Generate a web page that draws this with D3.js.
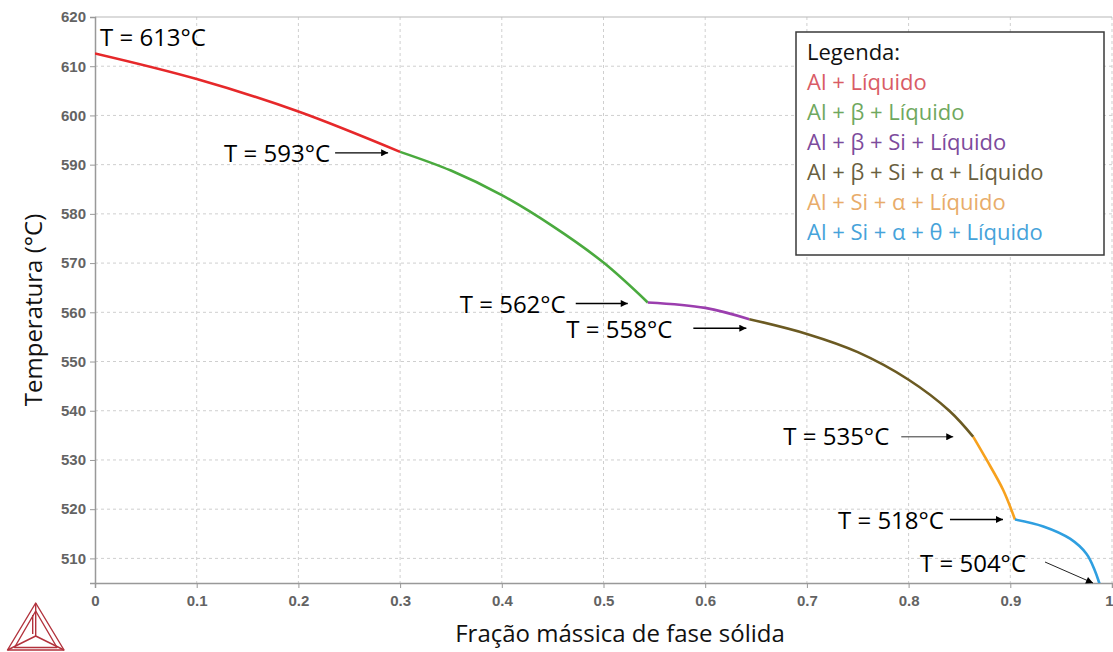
<!DOCTYPE html>
<html>
<head>
<meta charset="utf-8">
<script src="https://cdn.jsdelivr.net/npm/d3@7/dist/d3.min.js"></script>
<style>
  html, body { margin: 0; padding: 0; background: #fff; }
  svg { display: block; }
</style>
</head>
<body>
<svg id="chart" width="1113" height="652"></svg>
<script>
// Solidification path: temperature vs. solid mass fraction, split by phase region
const phaseNames = [
  "Al + Líquido",
  "Al + β + Líquido",
  "Al + β + Si + Líquido",
  "Al + β + Si + α + Líquido",
  "Al + Si + α + Líquido",
  "Al + Si + α + θ + Líquido"
];
const lineColors  = ["#e6282a", "#4aaa3e", "#9b3eae", "#6b5a22", "#f7a11d", "#2f9fe0"];
const labelColors = ["#d95c66", "#6fa85e", "#7d4b9c", "#6a5f3e", "#e8ac6a", "#46a3da"];

const fracAlLiq    = [0, 0.1, 0.2, 0.3];
const tempAlLiq    = [612.6, 607.4, 600.8, 592.6];
const fracBeta     = [0.3, 0.35, 0.4, 0.45, 0.5, 0.5435];
const tempBeta     = [592.6, 588.8, 583.8, 577.5, 570.1, 562.0];
const fracBetaSi   = [0.5435, 0.6, 0.6434];
const tempBetaSi   = [562.0, 560.9, 558.6];
const fracBetaSiA  = [0.6434, 0.7, 0.75, 0.8, 0.84, 0.8636];
const tempBetaSiA  = [558.6, 555.6, 551.9, 546.3, 540.0, 534.7];
const fracSiA      = [0.8636, 0.8768, 0.893, 0.9046];
const tempSiA      = [534.7, 530.0, 523.9, 517.9];
const fracSiATheta = [0.9046, 0.9325, 0.9587, 0.975, 0.983, 0.9875, 0.9892];
const tempSiATheta = [517.9, 516.5, 514.0, 510.9, 507.6, 505.0, 504.0];

const xTicks = [0, 0.1, 0.2, 0.3, 0.4, 0.5, 0.6, 0.7, 0.8, 0.9, 1];
const yTicks = [510, 520, 530, 540, 550, 560, 570, 580, 590, 600, 610, 620];

// Temperatures marked along the curve: liquidus, then the end of each phase region
const markTemps = [613, 593, 562, 558, 535, 518, 504];

const segments = [
  [fracAlLiq, tempAlLiq],
  [fracBeta, tempBeta],
  [fracBetaSi, tempBetaSi],
  [fracBetaSiA, tempBetaSiA],
  [fracSiA, tempSiA],
  [fracSiATheta, tempSiATheta]
].map(([f, t], i) => ({ name: phaseNames[i], color: lineColors[i], pts: f.map((v, j) => [v, t[j]]) }));

const svg = d3.select("#chart");
const plotL = 95, plotR = 1112, plotT = 17, plotB = 583;

const x = d3.scaleLinear().domain([0, 1]).range([plotL, plotR]);
const y = d3.scaleLinear().domain([505, 620]).range([plotB, plotT]);

// grid
const grid = svg.append("g");
grid.selectAll("line.gx").data(xTicks.slice(1)).join("line")
  .attr("x1", d => x(d)).attr("x2", d => x(d))
  .attr("y1", plotT).attr("y2", plotB)
  .attr("stroke", "#cfcfcf").attr("stroke-width", 1).attr("stroke-dasharray", "3,3");
grid.selectAll("line.gy").data(yTicks.slice(0, -1)).join("line")
  .attr("x1", plotL).attr("x2", plotR)
  .attr("y1", d => y(d)).attr("y2", d => y(d))
  .attr("stroke", "#cfcfcf").attr("stroke-width", 1).attr("stroke-dasharray", "3,3");
// top frame line
svg.append("line").attr("x1", plotL).attr("x2", plotR).attr("y1", plotT).attr("y2", plotT)
  .attr("stroke", "#b8b8b8").attr("stroke-width", 1.2);

// axes
const tickFont = g => g.selectAll("text")
  .attr("font-family", "'Liberation Sans', Arial, sans-serif")
  .attr("font-size", 15).attr("font-weight", "bold").attr("fill", "#636363");

const xAxis = svg.append("g").attr("transform", `translate(0,${plotB})`)
  .call(d3.axisBottom(x).tickValues(xTicks).tickFormat(d3.format("")).tickSizeOuter(0).tickSize(5).tickPadding(7))
  .call(tickFont);
xAxis.select(".domain").attr("stroke", "#999").attr("stroke-width", 1.5);
xAxis.selectAll(".tick line").attr("stroke", "#999");
// last label sits at the right edge of the page
xAxis.selectAll(".tick text").filter(d => d === 1).attr("text-anchor", "end").attr("dx", 1);

const yAxis = svg.append("g").attr("transform", `translate(${plotL},0)`)
  .call(d3.axisLeft(y).tickValues(yTicks).tickSizeOuter(0).tickSize(5).tickPadding(4))
  .call(tickFont);
yAxis.select(".domain").attr("stroke", "#999").attr("stroke-width", 1.5);
yAxis.selectAll(".tick line").attr("stroke", "#999");

// axis titles
svg.append("text")
  .attr("x", 620).attr("y", 642)
  .attr("text-anchor", "middle")
  .attr("font-family", "'Open Sans', sans-serif").attr("font-size", 24).attr("fill", "#111")
  .text("Fração mássica de fase sólida");
svg.append("text")
  .attr("transform", "translate(42,310) rotate(-90)")
  .attr("text-anchor", "middle")
  .attr("font-family", "'Open Sans', sans-serif").attr("font-size", 24).attr("fill", "#111")
  .text("Temperatura (°C)");

// curves, clipped to the plot area
svg.append("clipPath").attr("id", "plotClip")
  .append("rect").attr("x", plotL).attr("y", plotT - 2).attr("width", plotR - plotL + 2).attr("height", plotB - plotT + 2);

const line = d3.line().x(d => x(d[0])).y(d => y(d[1])).curve(d3.curveCatmullRom.alpha(0.5));
svg.append("g").attr("clip-path", "url(#plotClip)")
  .selectAll("path").data(segments).join("path")
  .attr("d", d => line(d.pts))
  .attr("fill", "none")
  .attr("stroke", d => d.color)
  .attr("stroke-width", 2.6)
  .attr("stroke-linejoin", "round");

// annotations: arrow tip offset from the curve point, arrow length, text gap
svg.append("defs").append("marker")
  .attr("id", "arrowHead").attr("viewBox", "0 0 10 10")
  .attr("refX", 10).attr("refY", 5)
  .attr("markerWidth", 9).attr("markerHeight", 7).attr("markerUnits", "userSpaceOnUse")
  .attr("orient", "auto")
  .append("path").attr("d", "M0,0 L10,5 L0,10 Z").attr("fill", "#000");

const firstPt = segments[0].pts[0];
const endPts = segments.map(s => s.pts[s.pts.length - 1]);
const notePts = [firstPt, ...endPts];
const noteLayout = [
  { dx: 5, dy: -7 },
  { tipDx: -12, tipDy: 1, len: 53, gap: 5, base: 9 },
  { tipDx: -20, tipDy: 1, len: 52, gap: 10, base: 9.4 },
  { tipDx: -3, tipDy: 9, len: 53, gap: 21, base: 9.4 },
  { tipDx: -20, tipDy: 0, len: 52, gap: 12, base: 8.5, thin: true },
  { tipDx: -12, tipDy: 0, len: 53, gap: 6, base: 9 },
  { diag: true }
];

const annoFont = "'Open Sans', sans-serif";
const notes = svg.append("g");
notePts.forEach((p, i) => {
  const L = noteLayout[i];
  const px = x(p[0]), py = y(p[1]);
  const label = `T = ${markTemps[i]}°C`;
  if (i === 0) {
    notes.append("text").attr("x", px + L.dx).attr("y", py + L.dy)
      .attr("font-family", annoFont).attr("font-size", 24).attr("fill", "#000").text(label);
    return;
  }
  if (L.diag) {
    const tipX = Math.min(px, plotR) - 8, tipY = plotB;
    notes.append("line")
      .attr("x1", tipX - 48).attr("y1", tipY - 21).attr("x2", tipX).attr("y2", tipY)
      .attr("stroke", "#222").attr("stroke-width", 1).attr("marker-end", "url(#arrowHead)");
    notes.append("text").attr("x", tipX - 67).attr("y", tipY - 11.5)
      .attr("text-anchor", "end")
      .attr("font-family", annoFont).attr("font-size", 24).attr("fill", "#000").text(label);
    return;
  }
  const tipX = px + L.tipDx, tipY = py + L.tipDy;
  notes.append("line")
    .attr("x1", tipX - L.len).attr("y1", tipY).attr("x2", tipX).attr("y2", tipY)
    .attr("stroke", L.thin ? "#333" : "#000").attr("stroke-width", L.thin ? 1 : 1.4)
    .attr("marker-end", "url(#arrowHead)");
  notes.append("text").attr("x", tipX - L.len - L.gap).attr("y", tipY + L.base)
    .attr("text-anchor", "end")
    .attr("font-family", annoFont).attr("font-size", 24).attr("fill", "#000").text(label);
});

// legend
const lg = svg.append("g").attr("transform", "translate(796,32)");
lg.append("rect").attr("width", 308).attr("height", 223)
  .attr("fill", "#fff").attr("stroke", "#3a3a3a").attr("stroke-width", 1.5);
lg.append("text").attr("x", 11).attr("y", 28)
  .attr("font-family", annoFont).attr("font-size", 22).attr("fill", "#111").text("Legenda:");
lg.selectAll("text.item").data(phaseNames).join("text")
  .attr("class", "item")
  .attr("x", 11).attr("y", (d, i) => 58 + i * 30)
  .attr("font-family", annoFont).attr("font-size", 22)
  .attr("fill", (d, i) => labelColors[i])
  .text(d => d);

// brand mark, bottom left
const logo = svg.append("g").attr("fill", "none").attr("stroke", "#b2323c").attr("stroke-width", 1.4)
  .attr("stroke-linejoin", "round");
const A = [35.7, 603], B = [7.5, 650], C = [64, 650], O = [35.7, 636];
logo.append("path").attr("d", `M${A}L${B}L${C}Z`);
logo.append("path").attr("d", `M${A[0]},${A[1] + 8}L${B[0] + 7},${B[1] - 2.5}L${C[0] - 7},${C[1] - 2.5}Z`);
logo.append("path").attr("d", `M${A}L${O}M${B}L${O}M${C}L${O}`);
logo.append("path").attr("d", `M${A[0] - 3},${A[1] + 12}L${O[0] - 3},${O[1] - 2}`);
</script>
</body>
</html>
